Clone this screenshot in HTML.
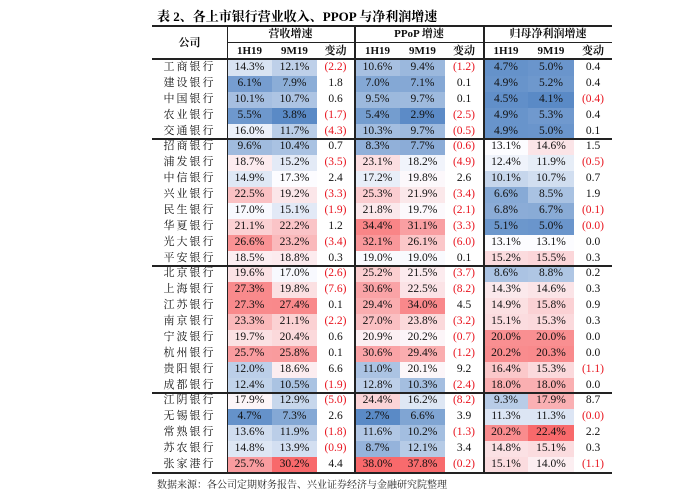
<!DOCTYPE html>
<html><head><meta charset="utf-8"><style>
body{margin:0;width:676px;height:500px;background:#fff;position:relative;overflow:hidden;font-family:"Liberation Serif","Noto Serif CJK SC",serif;}
.a{position:absolute;}
.c{position:absolute;text-align:center;font-size:11.5px;color:#111;white-space:nowrap;}
.h{font-weight:bold;font-size:11px;}
.ln{position:absolute;background:#222;}
</style></head><body>
<div class="a" style="left:157px;top:6px;font-size:13px;font-weight:bold;font-family:'Liberation Serif','Noto Serif CJK SC',serif;">表 2、各上市银行营业收入、PPOP 与净利润增速</div>
<div id="tbl"></div>
<div class="a" style="left:157px;top:476px;font-size:10px;color:#222;">数据来源：各公司定期财务报告、兴业证券经济与金融研究院整理</div>
<script>
const banks=["工商银行","建设银行","中国银行","农业银行","交通银行","招商银行","浦发银行","中信银行","兴业银行","民生银行","华夏银行","光大银行","平安银行","北京银行","上海银行","江苏银行","南京银行","宁波银行","杭州银行","贵阳银行","成都银行","江阴银行","无锡银行","常熟银行","苏农银行","张家港行"];
const rev1H=[14.3,6.1,10.1,5.5,16.0,9.6,18.7,14.9,22.5,17.0,21.1,26.6,18.5,19.6,27.3,27.3,23.3,19.7,25.7,12.0,12.4,17.9,4.7,13.6,14.8,25.7];
const rev9M=[12.1,7.9,10.7,3.8,11.7,10.4,15.2,17.3,19.2,15.1,22.2,23.2,18.8,17.0,19.8,27.4,21.1,20.4,25.8,18.6,10.5,12.9,7.3,11.9,13.9,30.2];
const revChg=[-2.2,1.8,0.6,-1.7,-4.3,0.7,-3.5,2.4,-3.3,-1.9,1.2,-3.4,0.3,-2.6,-7.6,0.1,-2.2,0.6,0.1,6.6,-1.9,-5.0,2.6,-1.8,-0.9,4.4];
const ppop1H=[10.6,7.0,9.5,5.4,10.3,8.3,23.1,17.2,25.3,21.8,34.4,32.1,19.0,25.2,30.6,29.4,27.0,20.9,30.6,11.0,12.8,24.4,2.7,11.6,8.7,38.0];
const ppop9M=[9.4,7.1,9.7,2.9,9.7,7.7,18.2,19.8,21.9,19.7,31.1,26.1,19.0,21.5,22.5,34.0,23.8,20.2,29.4,20.1,10.3,16.2,6.6,10.2,12.1,37.8];
const ppopChg=[-1.2,0.1,0.1,-2.5,-0.5,-0.6,-4.9,2.6,-3.4,-2.1,-3.3,-6.0,0.1,-3.7,-8.2,4.5,-3.2,-0.7,-1.2,9.2,-2.4,-8.2,3.9,-1.3,3.4,-0.2];
const np1H=[4.7,4.9,4.5,4.9,4.9,13.1,12.4,10.1,6.6,6.8,5.1,13.1,15.2,8.6,14.3,14.9,15.1,20.0,20.2,16.4,18.0,9.3,11.3,20.2,14.8,15.1];
const np9M=[5.0,5.2,4.1,5.3,5.0,14.6,11.9,10.7,8.5,6.7,5.0,13.1,15.5,8.8,14.6,15.8,15.3,20.0,20.3,15.3,18.0,17.9,11.3,22.4,15.1,14.0];
const npChg=["0.4","0.4","-0.4","0.4","0.1","1.5","-0.5","0.7","1.9","-0.1","-0.0","0.0","0.3","0.2","0.3","0.9","0.3","0.0","0.0","-1.1","0.0","8.7","-0.0","2.2","0.3","-1.1"];
const groupEnds=[5,13,21];

const T=document.getElementById('tbl');
const top0=60, rh=15.88;
const cols=[[227,272],[272,317],[317,354],[355,400],[400,445],[445,483],[484,528],[528,574],[574,612]];
function color(v,min,mid,max){
  const B=[90,138,198],W=[252,252,255],R=[248,105,107];
  let t,a,b;
  if(v<=mid){t=(mid-v)/(mid-min);a=W;b=B;}else{t=(v-mid)/(max-mid);a=W;b=R;}
  t=Math.max(0,Math.min(1,t));
  return 'rgb('+a.map((x,i)=>Math.round(x+(b[i]-x)*t)).join(',')+')';
}
function rangeOf(a,b){const all=a.concat(b);return [Math.min(...all),Math.max(...all)];}
const groups=[[rev1H,rev9M,revChg,17.3],[ppop1H,ppop9M,ppopChg,19.3],[np1H,np9M,npChg,13.1]];
function cell(x0,x1,y,txt,bg,col,name){
  const d=document.createElement('div');
  d.className='c';
  
  
  d.style.left=x0+'px';d.style.width=(x1-x0)+'px';d.style.top=y+'px';d.style.height=rh+'px';d.style.lineHeight=rh+'px';
  if(bg)d.style.background=bg;
  if(col)d.style.color=col;
  d.textContent=txt;
  T.appendChild(d);
}
banks.forEach((b,i)=>{
  const y=top0+i*rh;
  const n=document.createElement('div');
  n.className='c';
  
  
  n.style.left='152px';n.style.width='75px';n.style.top=y+'px';n.style.lineHeight=rh+'px';n.style.letterSpacing='2px';n.style.fontSize='11px';
  n.textContent=b;T.appendChild(n);
  groups.forEach((g,gi)=>{
    const [mn,mx]=rangeOf(g[0],g[1]);
    const c0=cols[gi*3],c1=cols[gi*3+1],c2=cols[gi*3+2];
    cell(c0[0],c0[1],y,g[0][i].toFixed(1)+'%',color(g[0][i],mn,g[3],mx),null,'value-1h19');
    cell(c1[0],c1[1],y,g[1][i].toFixed(1)+'%',color(g[1][i],mn,g[3],mx),null,'value-9m19');
    let s=String(g[2][i]);let v=parseFloat(s);
    let neg=s.startsWith('-');
    let txt=neg?'('+Math.abs(v).toFixed(1)+')':v.toFixed(1);
    cell(c2[0],c2[1],y,txt,null,neg?'#e8141e':'#111','change-value');
  });
});
function line(x,y,w,h,name){const d=document.createElement('div');d.className='ln';d.style.left=x+'px';d.style.top=y+'px';d.style.width=w+'px';d.style.height=h+'px';T.appendChild(d);}
// header
const hdr=[["营收增速",227,354],["PPoP 增速",355,483],["归母净利润增速",484,612]];
hdr.forEach(h=>{const d=document.createElement('div');d.className='c h';d.style.left=h[1]+'px';d.style.width=(h[2]-h[1])+'px';d.style.top='27px';d.style.lineHeight='15px';d.textContent=h[0];T.appendChild(d);});
const sub=["1H19","9M19","变动"];
cols.forEach((c,i)=>{const d=document.createElement('div');d.className='c h';d.style.left=c[0]+'px';d.style.width=(c[1]-c[0])+'px';d.style.top='43px';d.style.lineHeight='16px';d.textContent=sub[i%3];T.appendChild(d);});
const co=document.createElement('div');co.className='c h';co.style.left='152px';co.style.width='75px';co.style.top='35px';co.style.lineHeight='16px';co.textContent='公司';T.appendChild(co);
line(152,25,460,2,'top-rule');
line(227,42,385,1,'header-divider');
line(152,58,460,2,'header-rule');
groupEnds.forEach(g=>line(152,top0+g*rh-1,460,2,'group-rule'));
line(152,472,460,2,'bottom-rule');
line(227,26,1,447,'col-divider');
line(354,26,2,447,'col-divider');
line(483,26,2,447,'col-divider');
</script>
</body></html>
